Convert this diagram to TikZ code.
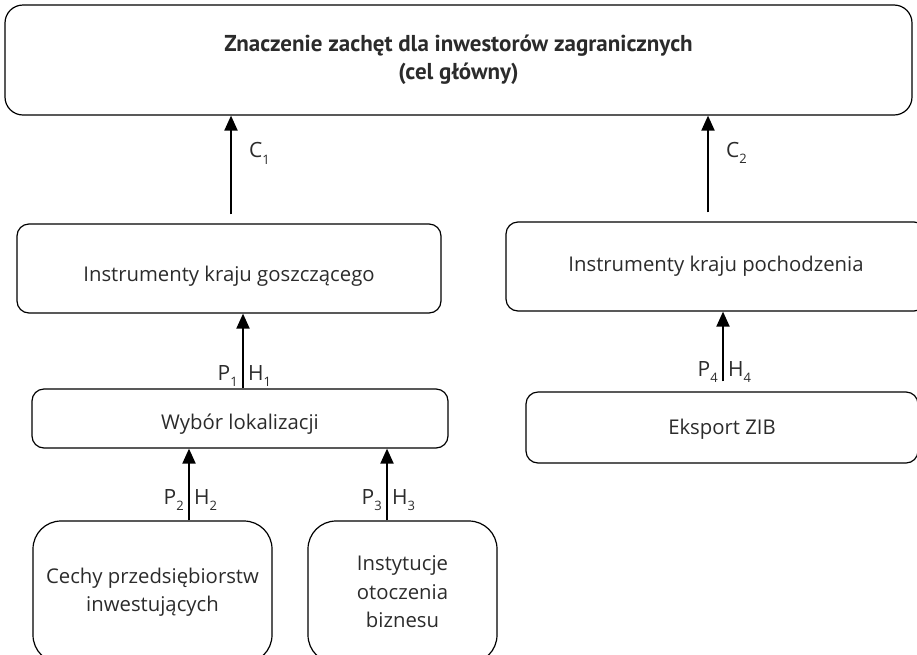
\documentclass[tikz,border=0pt]{standalone}
\usepackage{fontspec}
\setmainfont{Open Sans}
\newfontfamily\titlefont{PT Sans}
\usetikzlibrary{arrows.meta}
\definecolor{txt}{HTML}{2B2B2B}
\tikzset{
  box/.style={draw=black, line width=1.2pt, rounded corners=12pt, align=center, text=txt, font=\fontsize{20.3}{28.5}\selectfont, inner sep=0pt},
  bigbox/.style={box, rounded corners=28pt},
  arr/.style={line width=2pt, -{Triangle[width=13pt,length=15pt]}},
  lbl/.style={text=txt, font=\fontsize{21}{24}\selectfont, inner sep=0pt}
}
\newcommand{\sbs}[1]{\raisebox{-0.55ex}{\fontsize{13}{13}\selectfont #1}}
\begin{document}
\begin{tikzpicture}[x=1pt,y=-1pt]
\useasboundingbox (0,0) rectangle (917,654);
\node[box, rounded corners=18pt, minimum width=907pt, minimum height=110pt, font=\titlefont\bfseries\fontsize{23}{28}\selectfont] (goal) at (458.5,60) {Znaczenie zachęt dla inwestorów zagranicznych\\(cel główny)};
\node[box, minimum width=424pt, minimum height=89pt, text height=25pt, text depth=0pt] (host) at (229,268.5) {Instrumenty kraju goszczącego};
\node[box, minimum width=420pt, minimum height=89pt] (home) at (716,266.5) {Instrumenty kraju pochodzenia};
\node[box, minimum width=416pt, minimum height=59pt, text height=21pt, text depth=0pt] (loc) at (240,418.5) {Wybór lokalizacji};
\node[box, minimum width=392pt, minimum height=71pt, text height=18pt, text depth=5pt] (zib) at (722,427.5) {Eksport ZIB};
\node[bigbox, minimum width=239pt, minimum height=142pt] (firm) at (152.5,592) {Cechy przedsiębiorstw\\inwestujących};
\node[bigbox, minimum width=189pt, minimum height=142pt] (inst) at (402.5,592) {Instytucje\\otoczenia\\biznesu};
\coordinate (xc1) at (231,0);
\coordinate (xc2) at (708,0);
\coordinate (xp1) at (243,0);
\coordinate (xp2) at (189,0);
\coordinate (xp3) at (387,0);
\coordinate (xp4) at (723,0);
\draw[arr, shorten <=9pt] (host.north -| xc1) -- (goal.south -| xc1) node[lbl, pos=0.65, right=17pt] {C\sbs{1}};
\draw[arr, shorten <=9pt] (home.north -| xc2) -- (goal.south -| xc2) node[lbl, pos=0.65, right=17pt] {C\sbs{2}};
\draw[arr] (loc.north -| xp1) -- (host.south -| xp1);
\draw[arr] (firm.north -| xp2) -- (loc.south -| xp2);
\draw[arr] (inst.north -| xp3) -- (loc.south -| xp3);
\draw[arr, shorten <=10pt] (zib.north -| xp4) -- (home.south -| xp4);
\node[lbl, anchor=base east] (p1) at ([xshift=-5pt]xp1 |- 0,380) {P\sbs{1}};
\node[lbl, anchor=base west] (h1) at ([xshift=5pt]xp1 |- 0,380) {H\sbs{1}};
\node[lbl, anchor=base east] (p2) at ([xshift=-5pt]xp2 |- 0,504) {P\sbs{2}};
\node[lbl, anchor=base west] (h2) at ([xshift=5pt]xp2 |- 0,504) {H\sbs{2}};
\node[lbl, anchor=base east] (p3) at ([xshift=-5pt]xp3 |- 0,504) {P\sbs{3}};
\node[lbl, anchor=base west] (h3) at ([xshift=5pt]xp3 |- 0,504) {H\sbs{3}};
\node[lbl, anchor=base east] (p4) at ([xshift=-5pt]xp4 |- 0,376) {P\sbs{4}};
\node[lbl, anchor=base west] (h4) at ([xshift=5pt]xp4 |- 0,376) {H\sbs{4}};
\end{tikzpicture}
\end{document}
